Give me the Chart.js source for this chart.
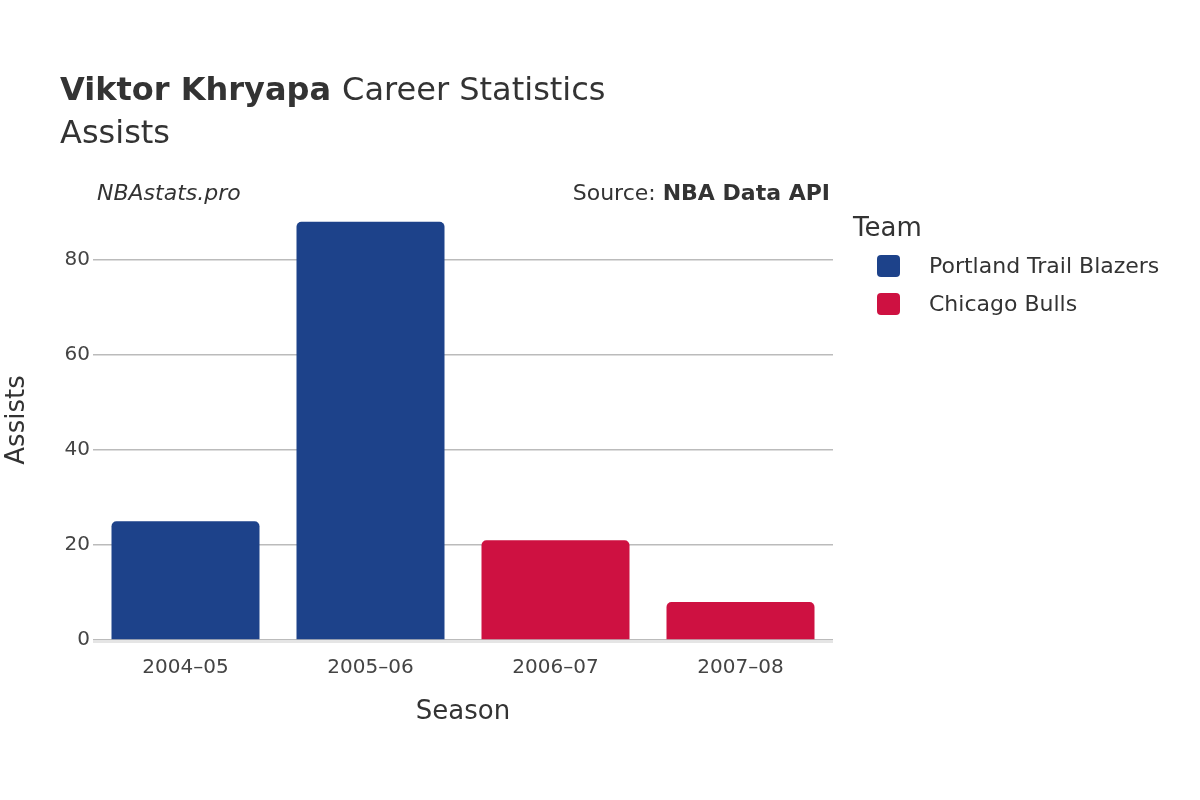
<!DOCTYPE html>
<html><head><meta charset="utf-8">
<script src="https://cdn.jsdelivr.net/npm/chart.js@4"></script>
<style>html,body{margin:0;padding:0;background:#fff}canvas{display:block}</style>
</head><body>
<canvas id="c" width="1200" height="800" style="width:1200px;height:800px"></canvas>
<script>
const seasons = ["2004–05","2005–06","2006–07","2007–08"];
const blazers = [25, 88, null, null];
const bulls = [null, null, 21, 8];
const teams = ["Portland Trail Blazers","Chicago Bulls"];
const colors = ["#1d428a","#ce1141"];
const yTicks = [0,20,40,60,80];
const F = "'DejaVu Sans', sans-serif";

const deco = {
  id:'deco',
  afterDraw(ch){
    const c = ch.ctx; c.save();
    c.fillStyle='#333'; c.textBaseline='alphabetic';
    c.font = "bold 32px "+F; c.textAlign='left';
    c.fillText("Viktor Khryapa",60,100);
    const w = c.measureText("Viktor Khryapa ").width;
    c.font = "32px "+F; c.fillText("Career Statistics",60+w,100);
    c.fillText("Assists",60,143);
    c.font = "italic 22px "+F; c.fillText("NBAstats.pro",97,200);
    c.textAlign='right';
    c.font = "bold 22px "+F; c.fillText("NBA Data API",830,200);
    const bw = c.measureText("NBA Data API").width;
    c.font = "22px "+F; c.fillText("Source: ",830-bw,200);
    c.textAlign='left';
    c.font = "26px "+F; c.fillText("Team",853,236);
    c.font = "22px "+F;
    teams.forEach((t,i)=>{
      const y = 266+i*38;
      c.fillStyle=colors[i];
      c.beginPath(); c.roundRect(877,y-11,23,22,4); c.fill();
      c.fillStyle='#333'; c.textBaseline='middle'; c.fillText(t,929,y+1);
    });
    c.textBaseline='middle'; c.textAlign='center';
    c.font = "26px "+F; c.fillText("Season",463,712);
    c.translate(17,420); c.rotate(-Math.PI/2); c.fillText("Assists",0,0);
    c.restore();
    // baseline
    const ya = ch.scales.y.getPixelForValue(0);
    c.save(); c.strokeStyle='#e5e5e5'; c.lineWidth=3;
    c.beginPath(); c.moveTo(ch.chartArea.left,ya+1.5); c.lineTo(ch.chartArea.right,ya+1.5); c.stroke(); c.restore();
  }
};

new Chart(document.getElementById('c'),{
  type:'bar',
  data:{labels:seasons,datasets:[
    {label:teams[0],data:blazers,backgroundColor:colors[0],borderRadius:5,borderSkipped:'bottom'},
    {label:teams[1],data:bulls,backgroundColor:colors[1],borderRadius:5,borderSkipped:'bottom'}
  ]},
  options:{
    responsive:false,animation:false,
    layout:{padding:{top:200,right:367,left:0,bottom:0}},
    datasets:{bar:{skipNull:true,categoryPercentage:0.8,barPercentage:1,grouped:true}},
    plugins:{legend:{display:false},tooltip:{enabled:false}},
    scales:{
      x:{grid:{display:false},border:{display:false},
         ticks:{color:'#444',font:{family:F,size:20},padding:8},
         afterFit(s){s.height=160;}},
      y:{min:0,max:92.6,border:{display:false},
         grid:{color:'#bbb',lineWidth:1.5,drawTicks:false},
         afterBuildTicks(s){s.ticks=yTicks.map(v=>({value:v}));},
         ticks:{color:'#444',font:{family:F,size:20},padding:3},
         afterFit(s){s.width=93;}}
    }
  },
  plugins:[deco]
});
</script>
</body></html>
